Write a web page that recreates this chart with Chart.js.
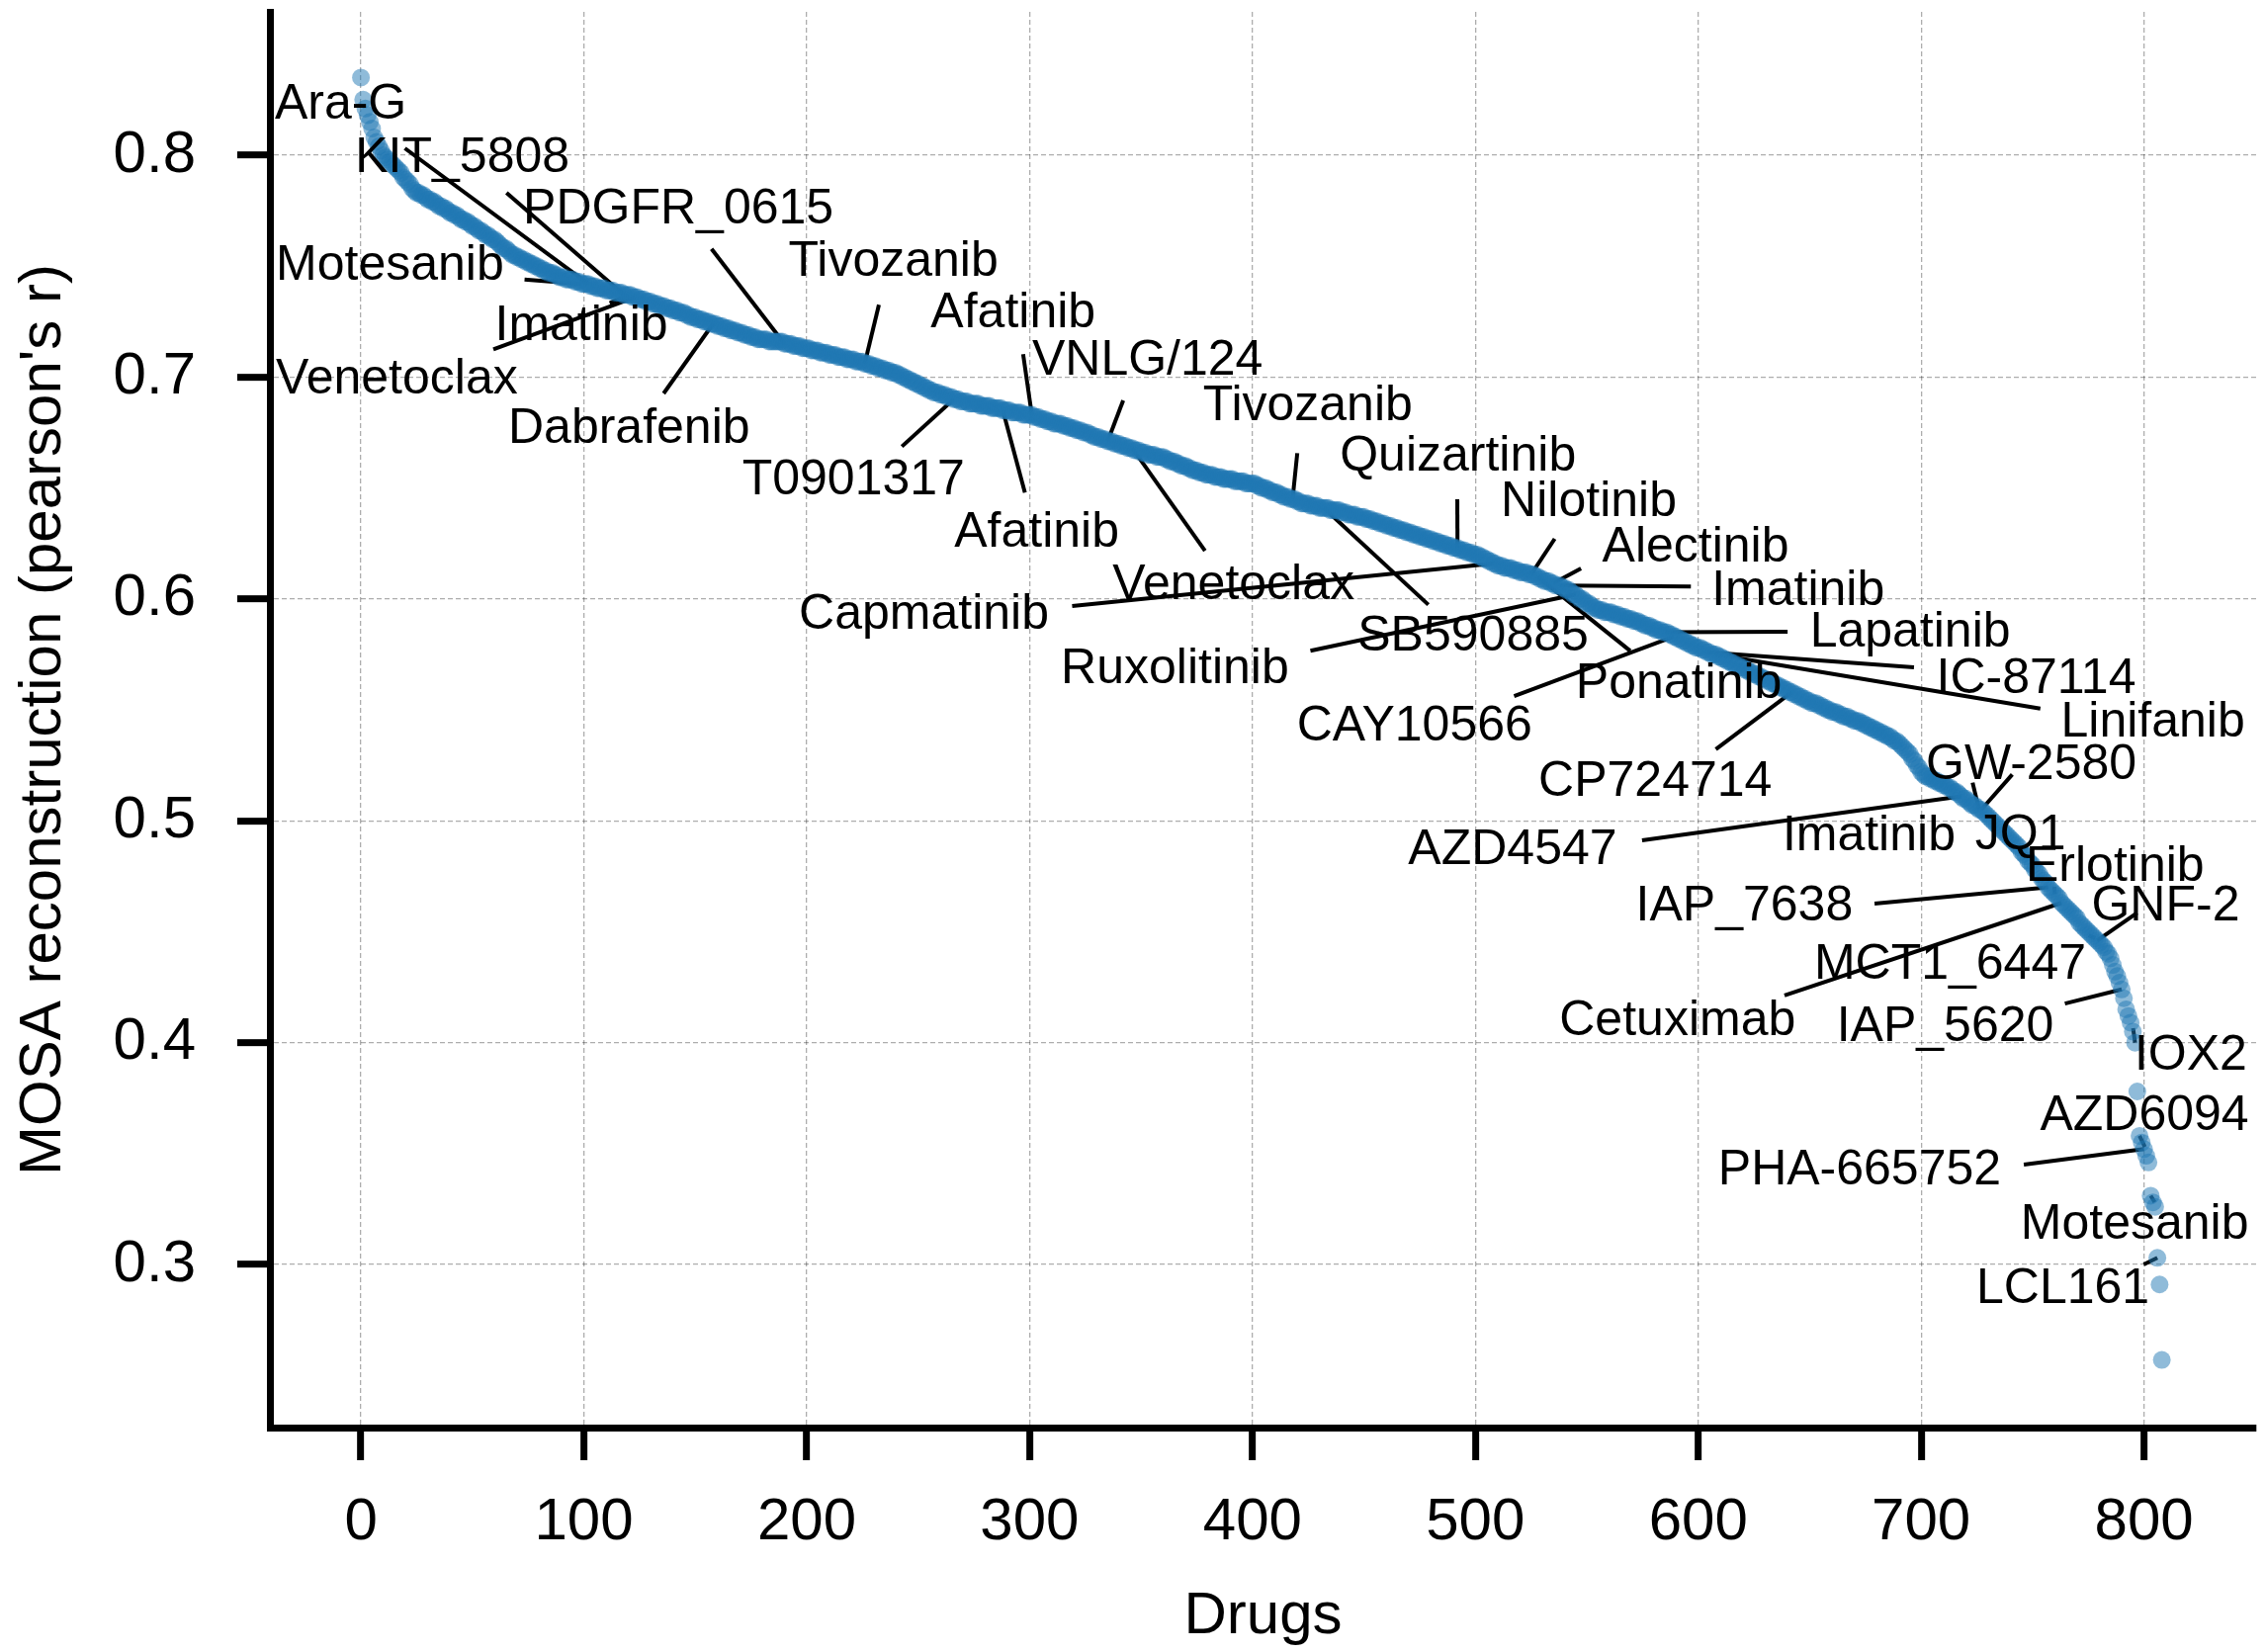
<!DOCTYPE html>
<html>
<head>
<meta charset="utf-8">
<title>MOSA reconstruction per drug</title>
<script src="https://cdn.jsdelivr.net/npm/chart.js@4.4.1/dist/chart.umd.min.js"></script>
<style>
  html, body { margin: 0; padding: 0; background: #fff; }
  canvas { display: block; }
</style>
</head>
<body>
<canvas id="drugChart" width="2291" height="1671"></canvas>
<script>
/* ── Drug-wise MOSA reconstruction, sorted by pearson's r ── */

// pearson's r per drug, already ranked (index = drug rank)
const pearsonR = [
  0.835, 0.825, 0.821, 0.818, 0.815, 0.812, 0.808, 0.806, 0.804, 0.802,
  0.800, 0.799, 0.798, 0.797, 0.796, 0.795, 0.794, 0.793, 0.792, 0.790,
  0.789, 0.788, 0.787, 0.785, 0.784, 0.783, 0.783, 0.782, 0.782, 0.781,
  0.780, 0.780, 0.779, 0.779, 0.778, 0.777, 0.777, 0.776, 0.776, 0.775,
  0.774, 0.774, 0.773, 0.773, 0.772, 0.771, 0.771, 0.770, 0.770, 0.769,
  0.768, 0.768, 0.767, 0.766, 0.766, 0.765, 0.764, 0.764, 0.763, 0.762,
  0.762, 0.761, 0.760, 0.759, 0.758, 0.758, 0.757, 0.756, 0.755, 0.755,
  0.754, 0.754, 0.753, 0.753, 0.752, 0.752, 0.751, 0.751, 0.750, 0.750,
  0.749, 0.749, 0.748, 0.748, 0.747, 0.747, 0.747, 0.746, 0.746, 0.745,
  0.745, 0.745, 0.744, 0.744, 0.744, 0.744, 0.743, 0.743, 0.743, 0.742,
  0.742, 0.742, 0.742, 0.741, 0.741, 0.741, 0.740, 0.740, 0.740, 0.740,
  0.739, 0.739, 0.739, 0.739, 0.738, 0.738, 0.738, 0.738, 0.737, 0.737,
  0.737, 0.737, 0.736, 0.736, 0.736, 0.735, 0.735, 0.735, 0.734, 0.734,
  0.734, 0.733, 0.733, 0.733, 0.732, 0.732, 0.732, 0.731, 0.731, 0.731,
  0.730, 0.730, 0.730, 0.729, 0.729, 0.729, 0.728, 0.728, 0.727, 0.727,
  0.727, 0.726, 0.726, 0.726, 0.725, 0.725, 0.725, 0.724, 0.724, 0.724,
  0.723, 0.723, 0.723, 0.722, 0.722, 0.722, 0.721, 0.721, 0.721, 0.720,
  0.720, 0.720, 0.719, 0.719, 0.719, 0.718, 0.718, 0.718, 0.717, 0.717,
  0.717, 0.717, 0.717, 0.716, 0.716, 0.716, 0.716, 0.716, 0.716, 0.716,
  0.715, 0.715, 0.715, 0.715, 0.714, 0.714, 0.714, 0.714, 0.713, 0.713,
  0.713, 0.713, 0.712, 0.712, 0.712, 0.712, 0.711, 0.711, 0.711, 0.711,
  0.710, 0.710, 0.710, 0.710, 0.709, 0.709, 0.709, 0.709, 0.708, 0.708,
  0.708, 0.708, 0.707, 0.707, 0.707, 0.707, 0.706, 0.706, 0.706, 0.705,
  0.705, 0.705, 0.704, 0.704, 0.704, 0.703, 0.703, 0.703, 0.702, 0.702,
  0.702, 0.701, 0.701, 0.700, 0.700, 0.699, 0.699, 0.698, 0.698, 0.697,
  0.697, 0.696, 0.696, 0.695, 0.695, 0.694, 0.694, 0.693, 0.693, 0.693,
  0.692, 0.692, 0.692, 0.691, 0.691, 0.691, 0.690, 0.690, 0.690, 0.689,
  0.689, 0.689, 0.689, 0.688, 0.688, 0.688, 0.688, 0.688, 0.687, 0.687,
  0.687, 0.687, 0.687, 0.686, 0.686, 0.686, 0.686, 0.686, 0.685, 0.685,
  0.685, 0.685, 0.684, 0.684, 0.684, 0.684, 0.684, 0.683, 0.683, 0.683,
  0.683, 0.683, 0.682, 0.682, 0.682, 0.681, 0.681, 0.681, 0.680, 0.680,
  0.680, 0.679, 0.679, 0.679, 0.679, 0.678, 0.678, 0.678, 0.677, 0.677,
  0.677, 0.676, 0.676, 0.676, 0.675, 0.675, 0.675, 0.674, 0.674, 0.673,
  0.673, 0.673, 0.672, 0.672, 0.672, 0.671, 0.671, 0.671, 0.670, 0.670,
  0.670, 0.669, 0.669, 0.669, 0.668, 0.668, 0.668, 0.667, 0.667, 0.667,
  0.666, 0.666, 0.666, 0.665, 0.665, 0.665, 0.665, 0.664, 0.664, 0.664,
  0.664, 0.663, 0.663, 0.662, 0.662, 0.662, 0.661, 0.661, 0.660, 0.660,
  0.660, 0.659, 0.659, 0.658, 0.658, 0.658, 0.657, 0.657, 0.657, 0.656,
  0.656, 0.656, 0.656, 0.655, 0.655, 0.655, 0.655, 0.654, 0.654, 0.654,
  0.654, 0.654, 0.653, 0.653, 0.653, 0.653, 0.653, 0.652, 0.652, 0.652,
  0.652, 0.652, 0.651, 0.651, 0.650, 0.650, 0.650, 0.649, 0.649, 0.648,
  0.648, 0.648, 0.647, 0.647, 0.646, 0.646, 0.646, 0.645, 0.645, 0.645,
  0.644, 0.644, 0.643, 0.643, 0.643, 0.643, 0.642, 0.642, 0.642, 0.642,
  0.641, 0.641, 0.641, 0.641, 0.641, 0.640, 0.640, 0.640, 0.640, 0.640,
  0.639, 0.639, 0.639, 0.638, 0.638, 0.638, 0.638, 0.637, 0.637, 0.637,
  0.637, 0.636, 0.636, 0.636, 0.635, 0.635, 0.635, 0.634, 0.634, 0.634,
  0.633, 0.633, 0.633, 0.632, 0.632, 0.632, 0.631, 0.631, 0.631, 0.630,
  0.630, 0.630, 0.629, 0.629, 0.629, 0.628, 0.628, 0.628, 0.627, 0.627,
  0.627, 0.626, 0.626, 0.626, 0.625, 0.625, 0.625, 0.624, 0.624, 0.624,
  0.623, 0.623, 0.623, 0.622, 0.622, 0.622, 0.621, 0.621, 0.621, 0.620,
  0.620, 0.620, 0.619, 0.619, 0.618, 0.618, 0.617, 0.617, 0.616, 0.616,
  0.615, 0.615, 0.615, 0.614, 0.614, 0.614, 0.614, 0.613, 0.613, 0.613,
  0.612, 0.612, 0.612, 0.612, 0.611, 0.611, 0.611, 0.610, 0.610, 0.609,
  0.609, 0.608, 0.608, 0.608, 0.607, 0.607, 0.606, 0.606, 0.606, 0.605,
  0.605, 0.604, 0.604, 0.603, 0.602, 0.602, 0.601, 0.600, 0.600, 0.599,
  0.598, 0.598, 0.597, 0.596, 0.596, 0.595, 0.595, 0.595, 0.594, 0.594,
  0.594, 0.594, 0.593, 0.593, 0.593, 0.592, 0.592, 0.592, 0.591, 0.591,
  0.591, 0.590, 0.590, 0.590, 0.589, 0.589, 0.588, 0.588, 0.588, 0.587,
  0.587, 0.586, 0.586, 0.586, 0.585, 0.585, 0.585, 0.584, 0.584, 0.583,
  0.583, 0.582, 0.582, 0.581, 0.581, 0.580, 0.580, 0.579, 0.579, 0.578,
  0.578, 0.578, 0.577, 0.577, 0.576, 0.576, 0.575, 0.575, 0.575, 0.574,
  0.574, 0.573, 0.573, 0.572, 0.572, 0.571, 0.571, 0.570, 0.570, 0.569,
  0.569, 0.568, 0.568, 0.567, 0.567, 0.566, 0.566, 0.565, 0.565, 0.564,
  0.564, 0.563, 0.563, 0.562, 0.562, 0.561, 0.561, 0.560, 0.560, 0.559,
  0.559, 0.558, 0.558, 0.557, 0.557, 0.556, 0.556, 0.555, 0.555, 0.554,
  0.554, 0.553, 0.553, 0.553, 0.552, 0.552, 0.551, 0.551, 0.550, 0.550,
  0.549, 0.549, 0.549, 0.548, 0.548, 0.547, 0.547, 0.547, 0.546, 0.546,
  0.545, 0.545, 0.545, 0.544, 0.544, 0.543, 0.543, 0.542, 0.542, 0.541,
  0.541, 0.540, 0.540, 0.539, 0.539, 0.538, 0.538, 0.537, 0.536, 0.536,
  0.535, 0.534, 0.533, 0.532, 0.531, 0.530, 0.528, 0.527, 0.525, 0.524,
  0.522, 0.521, 0.520, 0.520, 0.519, 0.519, 0.518, 0.518, 0.517, 0.517,
  0.516, 0.516, 0.515, 0.515, 0.514, 0.513, 0.513, 0.512, 0.511, 0.510,
  0.510, 0.509, 0.508, 0.507, 0.507, 0.506, 0.505, 0.505, 0.504, 0.503,
  0.502, 0.501, 0.500, 0.499, 0.498, 0.497, 0.496, 0.495, 0.494, 0.493,
  0.492, 0.491, 0.490, 0.489, 0.488, 0.486, 0.485, 0.484, 0.482, 0.481,
  0.480, 0.478, 0.477, 0.476, 0.474, 0.473, 0.472, 0.470, 0.469, 0.468,
  0.467, 0.466, 0.465, 0.463, 0.462, 0.461, 0.460, 0.459, 0.458, 0.457,
  0.456, 0.454, 0.453, 0.452, 0.451, 0.450, 0.449, 0.448, 0.447, 0.446,
  0.445, 0.444, 0.443, 0.441, 0.440, 0.438, 0.435, 0.432, 0.430, 0.427,
  0.424, 0.420, 0.415, 0.412, 0.409, 0.405, 0.400, 0.378, 0.358, 0.355,
  0.352, 0.349, 0.346, 0.331, 0.328, 0.326, 0.303, 0.291, 0.257
];

const xTicks = [0, 100, 200, 300, 400, 500, 600, 700, 800];
const yTicks = [0.3, 0.4, 0.5, 0.6, 0.7, 0.8];

// drug names written next to the curve (centre of each name, in data units)
const labelText = [
  'Ara-G', 'KIT_5808', 'PDGFR_0615', 'Motesanib', 'Imatinib', 'Venetoclax',
  'Dabrafenib', 'Tivozanib', 'Afatinib', 'VNLG/124', 'T0901317', 'Afatinib',
  'Tivozanib', 'Quizartinib', 'Nilotinib', 'Alectinib', 'Venetoclax', 'Capmatinib',
  'Imatinib', 'SB590885', 'Ruxolitinib', 'Lapatinib', 'Ponatinib', 'IC-87114',
  'CAY10566', 'Linifanib', 'CP724714', 'GW-2580', 'AZD4547', 'Imatinib',
  'JQ1', 'Erlotinib', 'IAP_7638', 'GNF-2', 'MCT1_6447', 'Cetuximab',
  'IAP_5620', 'IOX2', 'AZD6094', 'PHA-665752', 'Motesanib', 'LCL161'
];
const labelX = [
  -9.1, 45.5, 142.4, 13.0, 98.9, 16.1,
  120.3, 238.9, 292.6, 352.9, 221.0, 303.2,
  424.8, 492.2, 550.9, 598.8, 391.5, 252.6,
  644.8, 499.0, 365.2, 695.1, 591.3, 751.6,
  472.7, 804.0, 580.7, 749.4, 516.7, 676.6,
  744.6, 787.0, 620.7, 809.7, 713.0, 590.7,
  710.8, 821.0, 800.2, 672.4, 795.8, 763.6
];
const labelY = [
  0.8243, 0.8002, 0.7771, 0.7519, 0.7245, 0.7006,
  0.6781, 0.7535, 0.7303, 0.7089, 0.6553, 0.6316,
  0.6884, 0.6659, 0.6454, 0.6249, 0.6077, 0.5943,
  0.6050, 0.5845, 0.5698, 0.5863, 0.5634, 0.5654,
  0.5442, 0.5458, 0.5193, 0.5268, 0.4883, 0.4945,
  0.4950, 0.4811, 0.4629, 0.4629, 0.4366, 0.4114,
  0.4085, 0.3956, 0.3688, 0.3441, 0.3194, 0.2904
];

// leader lines: start near a name, end on the ranked drug it points at
const leaderFromX = [
  19.7, 65.3, 73.4, 111.6, 59.4, 135.8, 157.3, 232.4, 242.7, 297.1,
  297.9, 342.0, 378.7, 420.1, 478.9, 491.9, 319.1, 426.0, 535.6, 547.4,
  596.7, 569.5, 640.1, 696.8, 753.5, 517.4, 607.9, 740.9, 574.8, 679.1,
  796.9, 638.7, 764.5, 746.1, 723.1, 759.8, 775.2, 795.1, 800.4, 804.8,
  799.9
];
const leaderFromY = [
  0.8031, 0.7831, 0.7440, 0.7333, 0.7125, 0.6926, 0.7578, 0.7326, 0.6687, 0.7103,
  0.6479, 0.6895, 0.6217, 0.6657, 0.5974, 0.6449, 0.5968, 0.5766, 0.6271, 0.6137,
  0.6056, 0.5766, 0.5852, 0.5692, 0.5506, 0.5562, 0.5322, 0.5209, 0.4912, 0.4627,
  0.4585, 0.4213, 0.4176, 0.3450, 0.5172, 0.4702, 0.4484, 0.4065, 0.3530, 0.3281,
  0.3000
];
const leaderTo = [
  102, 118, 99, 120, 123, 158, 190, 226, 266, 301,
  288, 335, 346, 418, 432, 492, 508, 545, 525, 535,
  538, 528, 585, 604, 608, 589, 642, 727, 718, 757,
  779, 763, 790, 800, 726, 760, 778, 796, 798, 803,
  806
];

const FONT = "'Liberation Sans', Arial, Helvetica, sans-serif";
const DOT_BLUE = 'rgba(31, 119, 180, 0.5)';
const GRID_GREY = 'rgba(0, 0, 0, 0.32)';

// ── leader lines sit under the dots, names on top of them ──
const drugLabels = {
  id: 'drugLabels',
  beforeDatasetsDraw(chart) {
    const { ctx, scales: { x, y } } = chart;
    ctx.save();
    ctx.strokeStyle = '#000';
    ctx.lineWidth = 4;
    leaderTo.forEach((k, i) => {
      ctx.beginPath();
      ctx.moveTo(x.getPixelForValue(leaderFromX[i]), y.getPixelForValue(leaderFromY[i]));
      ctx.lineTo(x.getPixelForValue(k), y.getPixelForValue(pearsonR[k]));
      ctx.stroke();
    });
    ctx.restore();
  },
  afterDatasetsDraw(chart) {
    const { ctx, scales: { x, y } } = chart;
    const size = 50;
    ctx.save();
    ctx.fillStyle = '#000';
    ctx.font = `${size}px ${FONT}`;
    ctx.textAlign = 'center';
    ctx.textBaseline = 'alphabetic';
    labelText.forEach((t, i) => {
      // labelY marks the middle of the capitals
      ctx.fillText(t, x.getPixelForValue(labelX[i]), y.getPixelForValue(labelY[i]) + size * 0.358);
    });
    ctx.restore();
  }
};

const axisCommon = {
  type: 'linear',
  grid: {
    color: GRID_GREY,
    lineWidth: 1.3,
    drawTicks: true,
    tickLength: 33,
    tickWidth: 7,
    tickColor: '#000'
  },
  border: { display: true, color: '#000', width: 7, dash: [5, 3] }
};

new Chart(document.getElementById('drugChart'), {
  type: 'scatter',
  data: {
    datasets: [{
      data: pearsonR.map((r, i) => ({ x: i, y: r })),
      backgroundColor: DOT_BLUE,
      borderWidth: 0,
      pointRadius: 9,
      pointHoverRadius: 9
    }]
  },
  options: {
    responsive: false,
    devicePixelRatio: 1,
    animation: false,
    events: [],
    layout: { padding: { top: 12, left: 0, right: 0, bottom: 0 } },
    plugins: { legend: { display: false }, tooltip: { enabled: false } },
    scales: {
      x: {
        ...axisCommon,
        position: 'bottom',
        min: -40.85,
        max: 850.3,
        afterBuildTicks: s => { s.ticks = xTicks.map(v => ({ value: v })); },
        afterFit: s => { s.height = 227; s.paddingLeft = 0; s.paddingRight = 0; },
        ticks: {
          color: '#000',
          padding: 27,
          maxRotation: 0,
          autoSkip: false,
          font: { family: FONT, size: 60, lineHeight: 1.2 },
          callback: v => String(v)
        },
        title: {
          display: true,
          text: 'Drugs',
          color: '#000',
          padding: { top: 0, bottom: 0 },
          font: { family: FONT, size: 60, lineHeight: 1.2 }
        }
      },
      y: {
        ...axisCommon,
        position: 'left',
        min: 0.2265,
        max: 0.8646,
        afterBuildTicks: s => { s.ticks = yTicks.map(v => ({ value: v })); },
        afterFit: s => { s.width = 273; s.paddingTop = 0; s.paddingBottom = 0; },
        ticks: {
          color: '#000',
          padding: 42,
          autoSkip: false,
          font: { family: FONT, size: 60, lineHeight: 1.2 },
          callback: v => Number(v).toFixed(1)
        },
        title: {
          display: true,
          text: "MOSA reconstruction (pearson's r)",
          color: '#000',
          padding: { top: 8, bottom: 0 },
          font: { family: FONT, size: 60, lineHeight: 1.2 }
        }
      }
    }
  },
  plugins: [drugLabels]
});
</script>
</body>
</html>
